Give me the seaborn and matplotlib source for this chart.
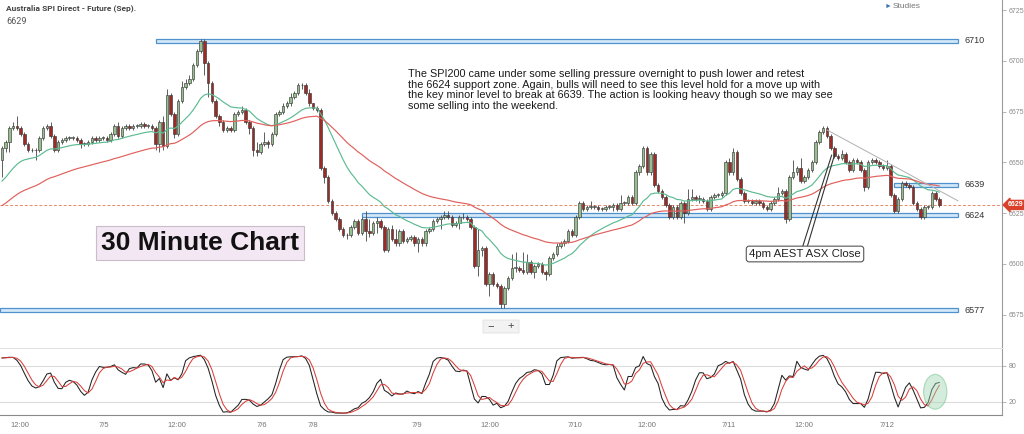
import matplotlib
matplotlib.use("Agg")
import matplotlib.pyplot as plt
import matplotlib.transforms as mtrans
from matplotlib.patches import Rectangle, Ellipse, FancyBboxPatch
from matplotlib.lines import Line2D
import seaborn as sns
import numpy as np
import pandas as pd

# 30 minute bars (open = previous close)
first_open = 6651
closes = [
    6657, 6660, 6667, 6668, 6667, 6664, 6659, 6656, 6656, 6656,
    6662, 6667, 6668, 6663, 6656, 6660, 6661, 6662, 6662, 6662,
    6661, 6659, 6659, 6660, 6662, 6661, 6662, 6662, 6661, 6664,
    6668, 6663, 6667, 6668, 6667, 6668, 6668, 6669, 6668, 6668,
    6667, 6659, 6670, 6658, 6683, 6674, 6664, 6680, 6687, 6689,
    6691, 6698, 6705, 6710, 6699, 6689, 6680, 6673, 6670, 6666,
    6667, 6666, 6674, 6675, 6676, 6670, 6667, 6656, 6655, 6659,
    6660, 6659, 6664, 6674, 6675, 6678, 6679, 6682, 6684, 6688,
    6688, 6684, 6679, 6677, 6676, 6647, 6643, 6631, 6625, 6622,
    6617, 6614, 6614, 6618, 6621, 6615, 6622, 6616, 6615, 6620,
    6621, 6618, 6607, 6617, 6612, 6610, 6616, 6611, 6612, 6613,
    6610, 6612, 6610, 6616, 6617, 6621, 6622, 6623, 6624, 6623,
    6619, 6620, 6623, 6623, 6622, 6618, 6599, 6607, 6608, 6590,
    6595, 6590, 6589, 6580, 6588, 6593, 6598, 6598, 6597, 6596,
    6601, 6596, 6599, 6600, 6596, 6595, 6603, 6605, 6609, 6610,
    6611, 6616, 6614, 6623, 6630, 6627, 6628, 6628, 6628, 6627,
    6627, 6628, 6628, 6629, 6627, 6630, 6630, 6633, 6630, 6645,
    6648, 6657, 6645, 6654, 6639, 6636, 6633, 6629, 6623, 6628,
    6623, 6630, 6625, 6632, 6633, 6632, 6632, 6631, 6627, 6633,
    6634, 6634, 6635, 6650, 6645, 6655, 6642, 6635, 6631, 6631,
    6630, 6631, 6630, 6628, 6627, 6630, 6632, 6635, 6636, 6622,
    6643, 6645, 6647, 6641, 6643, 6646, 6650, 6660, 6665, 6667,
    6663, 6657, 6653, 6652, 6654, 6650, 6646, 6651, 6650, 6646,
    6638, 6650, 6651, 6650, 6648, 6647, 6648, 6634, 6626, 6632,
    6640, 6639, 6638, 6630, 6627, 6623, 6628, 6628, 6635, 6632,
    6629,
]
highs = [
    6658, 6661, 6668, 6670, 6673, 6668, 6665, 6660, 6657, 6657,
    6663, 6668, 6669, 6670, 6664, 6661, 6662, 6663, 6663, 6663,
    6663, 6662, 6660, 6661, 6663, 6663, 6663, 6663, 6663, 6665,
    6669, 6670, 6668, 6669, 6669, 6669, 6669, 6670, 6670, 6669,
    6669, 6668, 6671, 6673, 6686, 6684, 6675, 6681, 6690, 6691,
    6693, 6699, 6706, 6711, 6711, 6700, 6690, 6681, 6674, 6671,
    6668, 6668, 6675, 6676, 6678, 6677, 6671, 6668, 6660, 6660,
    6665, 6661, 6665, 6675, 6676, 6679, 6680, 6684, 6685, 6689,
    6689, 6689, 6686, 6679, 6678, 6677, 6648, 6644, 6632, 6626,
    6623, 6618, 6615, 6619, 6622, 6622, 6623, 6626, 6622, 6621,
    6623, 6622, 6619, 6618, 6619, 6617, 6617, 6617, 6613, 6614,
    6614, 6613, 6613, 6617, 6618, 6622, 6623, 6624, 6626, 6626,
    6624, 6621, 6624, 6625, 6624, 6623, 6619, 6617, 6609, 6609,
    6596, 6596, 6591, 6590, 6589, 6594, 6605, 6606, 6599, 6606,
    6605, 6602, 6600, 6601, 6601, 6597, 6604, 6606, 6610, 6611,
    6612, 6617, 6617, 6624, 6631, 6631, 6629, 6631, 6629, 6629,
    6628, 6629, 6629, 6630, 6630, 6634, 6631, 6634, 6634, 6646,
    6649, 6658, 6658, 6655, 6655, 6640, 6637, 6634, 6630, 6629,
    6629, 6631, 6631, 6637, 6637, 6634, 6634, 6633, 6632, 6634,
    6635, 6635, 6636, 6651, 6652, 6657, 6656, 6643, 6636, 6632,
    6632, 6632, 6632, 6631, 6629, 6631, 6633, 6638, 6637, 6637,
    6644, 6651, 6648, 6652, 6644, 6647, 6651, 6661, 6666, 6668,
    6668, 6664, 6658, 6654, 6656, 6655, 6651, 6652, 6652, 6651,
    6647, 6651, 6652, 6652, 6651, 6649, 6651, 6649, 6635, 6633,
    6641, 6641, 6640, 6639, 6631, 6628, 6629, 6629, 6636, 6636,
    6633,
]
lows = [
    6643, 6655, 6655, 6666, 6666, 6663, 6658, 6655, 6655, 6651,
    6655, 6661, 6666, 6662, 6655, 6655, 6659, 6660, 6661, 6661,
    6660, 6657, 6658, 6658, 6659, 6660, 6660, 6661, 6660, 6660,
    6663, 6662, 6662, 6666, 6666, 6666, 6667, 6667, 6667, 6667,
    6666, 6656, 6655, 6656, 6657, 6673, 6662, 6663, 6679, 6686,
    6688, 6690, 6697, 6704, 6693, 6682, 6679, 6672, 6668, 6665,
    6665, 6665, 6665, 6673, 6674, 6669, 6664, 6653, 6653, 6654,
    6658, 6657, 6658, 6663, 6673, 6674, 6677, 6678, 6681, 6683,
    6686, 6683, 6678, 6676, 6675, 6646, 6640, 6630, 6624, 6621,
    6616, 6613, 6612, 6613, 6617, 6614, 6614, 6611, 6613, 6614,
    6615, 6617, 6606, 6606, 6611, 6609, 6609, 6610, 6610, 6611,
    6609, 6606, 6609, 6609, 6615, 6616, 6620, 6617, 6622, 6622,
    6618, 6618, 6617, 6622, 6621, 6617, 6598, 6594, 6604, 6589,
    6584, 6589, 6588, 6578, 6578, 6587, 6592, 6596, 6596, 6595,
    6595, 6595, 6593, 6598, 6595, 6592, 6594, 6602, 6604, 6608,
    6609, 6610, 6613, 6613, 6622, 6626, 6626, 6627, 6627, 6626,
    6626, 6626, 6627, 6626, 6626, 6626, 6629, 6629, 6629, 6629,
    6644, 6647, 6644, 6644, 6638, 6635, 6632, 6628, 6622, 6622,
    6622, 6622, 6620, 6624, 6631, 6631, 6630, 6630, 6626, 6626,
    6632, 6633, 6633, 6634, 6644, 6644, 6641, 6634, 6630, 6630,
    6629, 6629, 6629, 6627, 6626, 6626, 6629, 6631, 6634, 6620,
    6621, 6642, 6644, 6640, 6640, 6642, 6645, 6649, 6659, 6664,
    6662, 6656, 6652, 6651, 6651, 6649, 6645, 6645, 6649, 6645,
    6636, 6637, 6649, 6649, 6647, 6646, 6646, 6633, 6625, 6625,
    6631, 6638, 6637, 6629, 6626, 6622, 6622, 6627, 6627, 6631,
    6628,
]

# moving-average starting values carried in from before the first bar
ema_fast_seed = 6639
ema_slow_seed = 6627.5

levels = [6710, 6639, 6624, 6577]
level_start = [41, 238, 96, -0.5]
level_end = 255
last_price = 6629

trend_x = [220, 255]
trend_y = [6666, 6631]

tick_pos = [4.9, 27.3, 46.7, 69.4, 83.0, 110.7, 130.2, 152.9, 172.1, 193.9, 214.0, 236.1]
tick_labels = ["12:00", "7/5", "12:00", "7/6", "7/8", "7/9", "12:00",
               "7/10", "12:00", "7/11", "12:00", "7/12"]

title = "Australia SPI Direct - Future (Sep)."
note = ("The SPI200 came under some selling pressure overnight to push lower and retest\n"
        "the 6624 support zone. Again, bulls will need to see this level hold for a move up with\n"
        "the key minor level to break at 6639. The action is looking heavy though so we may see\n"
        "some selling into the weekend.")

assert len(closes) == len(highs) == len(lows)

df = pd.DataFrame({"close": closes, "high": highs, "low": lows})
df["open"] = df["close"].shift(1).fillna(first_open)
df["bar"] = np.arange(len(df))


def ema(seed, span):
    s = pd.concat([pd.Series([seed]), df["close"]], ignore_index=True)
    return s.ewm(span=span, adjust=False).mean().iloc[1:].to_numpy()


df["ema20"] = ema(ema_fast_seed, 20)
df["ema50"] = ema(ema_slow_seed, 50)

# slow stochastic (10, 3, 3)
lo = df["low"].rolling(10, min_periods=1).min()
hi = df["high"].rolling(10, min_periods=1).max()
raw = 100 * (df["close"] - lo) / (hi - lo)
df["k"] = raw.rolling(3, min_periods=1).mean()
df["d"] = df["k"].rolling(3, min_periods=1).mean()

sns.set_style("white")
plt.rcParams["font.family"] = ["Liberation Sans", "DejaVu Sans"]

W, H = 1024, 434
fig = plt.figure(figsize=(W / 100, H / 100), dpi=100)
ax = fig.add_axes([0, 1 - 348 / H, 1002 / W, 348 / H])
osc = fig.add_axes([0, 1 - 415 / H, 1002 / W, 67 / H], sharex=ax)

# levels
for lv, st in zip(levels, level_start):
    ax.add_patch(Rectangle((st, lv - 1.0), level_end - st, 2.0,
                           facecolor="#d3e7f7", edgecolor="#4f92cf", lw=0.9, zorder=1))
    ax.text(level_end + 1.8, lv, str(lv), fontsize=6.5, color="#333333",
            va="center", ha="left")

ax.axhline(last_price, color="#e58a6a", lw=0.7, ls=(0, (3, 2)), zorder=1)

# candles
up = df["close"] >= df["open"]
ax.vlines(df["bar"], df["low"], df["high"], color="#444444", lw=0.6, zorder=2)
body_lo = np.minimum(df["open"], df["close"])
body_h = np.maximum((df["close"] - df["open"]).abs(), 0.3)
ax.bar(df["bar"], body_h, bottom=body_lo, width=0.7,
       color=np.where(up, "#96bf8e", "#9e2a25"), edgecolor="#3a3a3a",
       linewidth=0.45, zorder=3)

sns.lineplot(data=df, x="bar", y="ema20", ax=ax, color="#5dbb92", lw=0.85, zorder=4)
sns.lineplot(data=df, x="bar", y="ema50", ax=ax, color="#e0605c", lw=0.85, zorder=4)
ax.plot(trend_x, trend_y, color="#b0b0b0", lw=0.7, zorder=4)

ax.set_xlim(-0.5, 266.7)
ax.set_ylim(6558.5, 6730)
ax.set_xlabel("")
ax.set_ylabel("")
for side in ["top", "left", "bottom"]:
    ax.spines[side].set_visible(False)
ax.spines["right"].set_color("#9a9a9a")
ax.spines["right"].set_linewidth(0.8)
ax.yaxis.tick_right()
ax.set_yticks(np.arange(6575, 6726, 25))
ax.tick_params(axis="y", labelsize=5, labelcolor="#8a8a8a", length=3,
               width=0.5, color="#9a9a9a", pad=2)
ax.tick_params(axis="x", bottom=False, labelbottom=False)

# current price tag
tr = mtrans.blended_transform_factory(ax.transAxes, ax.transData)
ax.text(1.006, last_price, str(last_price), transform=tr, fontsize=5,
        color="white", va="center", ha="left", fontweight="bold",
        bbox=dict(boxstyle="larrow,pad=0.15", fc="#d9412b", ec="#d9412b"))

# stochastic panel
for lv in [80, 20]:
    osc.axhline(lv, color="#dcdcdc", lw=0.8, zorder=0)
sns.lineplot(data=df, x="bar", y="k", ax=osc, color="#222222", lw=0.75)
sns.lineplot(data=df, x="bar", y="d", ax=osc, color="#d9403c", lw=0.75)
osc.add_patch(Ellipse((248.9, 37), 6.2, 58, facecolor="#9fd6b0", alpha=0.45,
                      edgecolor="#5cb87a", lw=0.8, zorder=5))
osc.set_ylim(-1.7, 110)
osc.set_xlabel("")
osc.set_ylabel("")
osc.spines["left"].set_visible(False)
osc.spines["top"].set_color("#e2e2e2")
osc.spines["bottom"].set_color("#8a8a8a")
osc.spines["right"].set_color("#9a9a9a")
osc.spines["right"].set_linewidth(0.8)
osc.yaxis.tick_right()
osc.set_yticks([20, 80])
osc.tick_params(axis="y", labelsize=5, labelcolor="#8a8a8a", length=3,
                width=0.5, color="#9a9a9a", pad=2)
osc.set_xticks(tick_pos)
osc.set_xticklabels(tick_labels)
osc.tick_params(axis="x", labelsize=5.5, labelcolor="#777777", length=3,
                width=0.5, color="#9a9a9a", pad=2)

# header texts
fig.text(6 / W, 1 - 8 / H, title, fontsize=6, fontweight="bold", color="#444444",
         va="center", family=["Roboto", "DejaVu Sans"])
fig.text(6 / W, 1 - 22 / H, str(last_price), fontsize=6.5, color="#555555",
         va="center", family=["Roboto", "DejaVu Sans"])
fig.text(885 / W, 1 - 6 / H, "\u25ba", fontsize=5, color="#3a6fb0", va="center")
fig.text(893 / W, 1 - 6 / H, "Studies", fontsize=6, color="#777777", va="center")

fig.text(408 / W, 1 - 69 / H, note, fontsize=7.8, color="#1a1a1a", va="top",
         ha="left", linespacing=1.07)

fig.text(200 / W, 1 - 243 / H, "30 Minute Chart", fontsize=19, fontweight="bold",
         color="#111111", ha="center", va="center",
         bbox=dict(boxstyle="square,pad=0.2", fc="#f3e7f3", ec="#cbbccb", lw=0.8))

fig.text(805 / W, 1 - 254 / H, "4pm AEST ASX Close", fontsize=8.2, color="#222222",
         ha="center", va="center",
         bbox=dict(boxstyle="round,pad=0.25", fc="white", ec="#555555", lw=0.8))
for x0, x1, y1 in [(802.7, 831.7, 155), (807.3, 835.0, 153.3)]:
    fig.add_artist(Line2D([x0 / W, x1 / W], [1 - 246.5 / H, 1 - y1 / H],
                          color="#333333", lw=0.8))

# zoom buttons
fig.add_artist(FancyBboxPatch((483 / W, 1 - 333 / H), 36 / W, 13 / H,
                              boxstyle="round,pad=0", fc="#f2f2f2", ec="#e0e0e0", lw=0.6))
fig.text(491 / W, 1 - 326 / H, "\u2212", fontsize=8, color="#444444", ha="center", va="center")
fig.text(511 / W, 1 - 326 / H, "+", fontsize=8, color="#444444", ha="center", va="center")

fig.savefig("out.png", dpi=100)
